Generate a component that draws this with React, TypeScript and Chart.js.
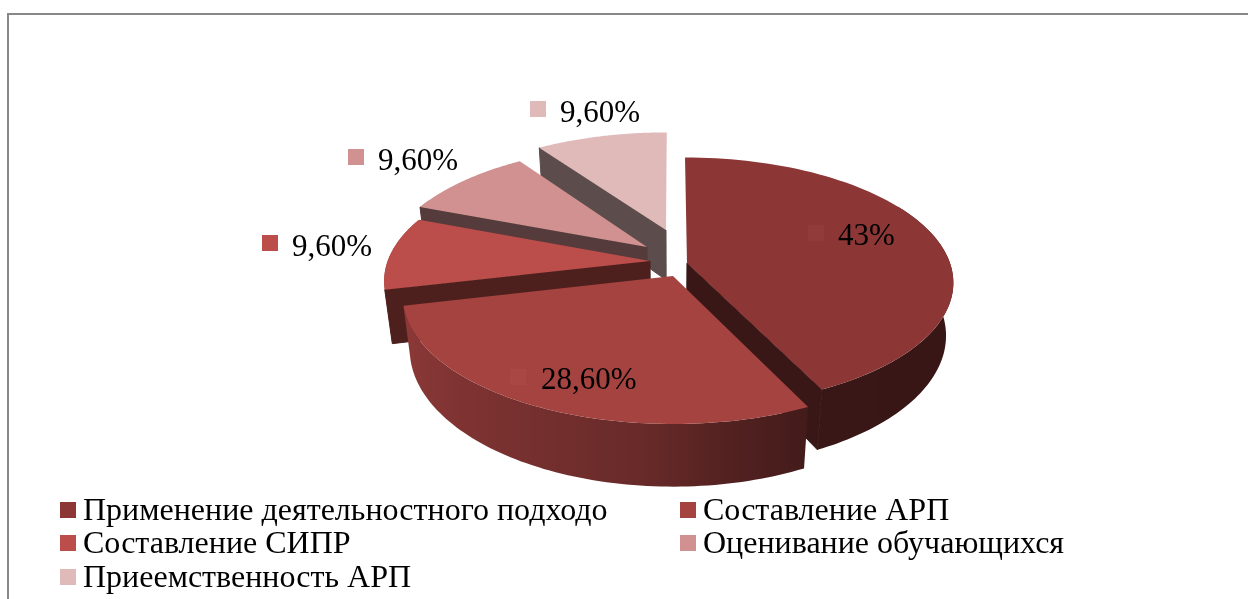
import React, { useEffect, useRef } from "react";
import { Chart, registerables } from "chart.js";

Chart.register(...registerables);

const categories = [
  "Применение деятельностного подходо",
  "Составление АРП",
  "Составление СИПР",
  "Оценивание обучающихся",
  "Приеемственность АРП",
];
const values = [43, 28.6, 9.6, 9.6, 9.6];
const valueLabels = ["43%", "28,60%", "9,60%", "9,60%", "9,60%"];
const colors = ["#8c3736", "#a54341", "#bb4d4a", "#d09190", "#e0b9b9"];

// Style: explosion of each slice in the pie plane (fractions of the radius), 3D view and layout.
const explodeU = [0.057, 0.0037, -0.0839, -0.097, -0.0238];
const explodeV = [-0.0248, -0.1302, -0.0083, 0.1097, 0.2586];
const drawOrder = [4, 3, 2, 0, 1];
const VIEW = { radiusScale: 262 / 260, tilt: 0.46, persp: 0.15, depth: 52, depthPersp: 0.026 };
const FONT = '"Liberation Serif", serif';
const labelLayout = [
  { mx: 808, my: 225, tx: 838, ty: 237, mark: "#913b3a" },
  { mx: 510, my: 369, tx: 541, ty: 381, mark: "#a94745" },
  { mx: 262, my: 235, tx: 292, ty: 248, mark: colors[2] },
  { mx: 348, my: 149, tx: 378, ty: 162, mark: colors[3] },
  { mx: 530, my: 101, tx: 560, ty: 114, mark: colors[4] },
];
const legendLayout = [
  { x: 60, y: 510 },
  { x: 680, y: 510 },
  { x: 60, y: 543 },
  { x: 680, y: 543 },
  { x: 60, y: 577 },
];
const brightnessStops: [number, number][] = [
  [0, 0.4],
  [155, 0.41],
  [170, 0.5],
  [185, 0.63],
  [210, 0.72],
  [258, 0.87],
  [360, 0.87],
];
const VISIBLE_WALL = { from: (60 * Math.PI) / 180, to: (295 * Math.PI) / 180 };

function shade(hex: string, b: number) {
  const n = parseInt(hex.slice(1), 16);
  const c = [(n >> 16) & 255, (n >> 8) & 255, n & 255].map((v) => Math.round(v * b));
  return `rgb(${c[0]},${c[1]},${c[2]})`;
}
function brightness(deg: number) {
  for (let i = 1; i < brightnessStops.length; i++) {
    const [a, ba] = brightnessStops[i - 1];
    const [c, bc] = brightnessStops[i];
    if (deg <= c) return ba + ((bc - ba) * (deg - a)) / (c - a);
  }
  return 0.87;
}

const pie3d = {
  id: "pie3d",
  beforeDatasetDraw(chart: any) {
    const { ctx } = chart;
    const arcs = chart.getDatasetMeta(0).data;
    const proj = (arc: any, u: number, v: number, z: number): [number, number] => {
      const R = arc.outerRadius * VIEW.radiusScale;
      const w = 1 + VIEW.persp * v;
      return [arc.x + (R * u) / (w + VIEW.depthPersp * z), arc.y + (-R * VIEW.tilt * v + VIEW.depth * z) / w];
    };
    ctx.save();
    for (const i of drawOrder) {
      const arc = arcs[i];
      const t0 = arc.startAngle + Math.PI / 2;
      const t1 = arc.endAngle + Math.PI / 2;
      const eu = explodeU[i];
      const ev = explodeV[i];
      const P = (t: number, z: number) => proj(arc, eu + Math.sin(t), ev + Math.cos(t), z);
      const A = (z: number) => proj(arc, eu, ev, z);
      const N = 80;
      // outer wall: only its front part can be seen
      const w0 = Math.max(t0, VISIBLE_WALL.from);
      const w1 = Math.min(t1, VISIBLE_WALL.to);
      if (w1 > w0) {
        const samples: [number, number][] = [];
        ctx.beginPath();
        for (let s = 0; s <= N; s++) {
          const t = w0 + ((w1 - w0) * s) / N;
          const p = P(t, 0);
          samples.push([p[0], brightness((t * 180) / Math.PI)]);
          if (s === 0) ctx.moveTo(...p);
          else ctx.lineTo(...p);
        }
        for (let s = N; s >= 0; s--) ctx.lineTo(...P(w0 + ((w1 - w0) * s) / N, 1));
        ctx.closePath();
        samples.sort((a, b) => a[0] - b[0]);
        const x0 = samples[0][0];
        const x1 = samples[samples.length - 1][0];
        const g = ctx.createLinearGradient(x0, 0, x1, 0);
        for (const [x, b] of samples) g.addColorStop((x - x0) / (x1 - x0 || 1), shade(colors[i], b));
        ctx.fillStyle = g;
        ctx.fill();
      }
      // cut walls, only those that face the viewer
      const quad = (t: number) => {
        ctx.beginPath();
        ctx.moveTo(...A(0));
        ctx.lineTo(...P(t, 0));
        ctx.lineTo(...P(t, 1));
        ctx.lineTo(...A(1));
        ctx.closePath();
        ctx.fillStyle = shade(colors[i], 0.41);
        ctx.strokeStyle = shade(colors[i], 0.41);
        ctx.lineWidth = 1;
        ctx.fill();
        ctx.stroke();
      };
      if (P(t0, 0)[0] - A(0)[0] < -2) quad(t0);
      if (P(t1, 0)[0] - A(0)[0] > 2) quad(t1);
      // top face
      ctx.beginPath();
      ctx.moveTo(...A(0));
      for (let s = 0; s <= N; s++) ctx.lineTo(...P(t0 + ((t1 - t0) * s) / N, 0));
      ctx.closePath();
      ctx.fillStyle = colors[i];
      ctx.fill();
    }
    ctx.restore();
    return false;
  },
  afterDraw(chart: any) {
    const { ctx, width, height } = chart;
    ctx.save();
    // frame
    ctx.strokeStyle = "#888888";
    ctx.lineWidth = 2;
    ctx.beginPath();
    ctx.moveTo(8, height);
    ctx.lineTo(8, 14);
    ctx.lineTo(width, 14);
    ctx.stroke();
    // value labels
    ctx.textBaseline = "middle";
    ctx.textAlign = "left";
    valueLabels.forEach((t, i) => {
      const l = labelLayout[i];
      ctx.fillStyle = l.mark;
      ctx.fillRect(l.mx, l.my, 16, 16);
      ctx.fillStyle = "#000";
      ctx.font = `31px ${FONT}`;
      ctx.fillText(t, l.tx, l.ty);
    });
    // legend
    categories.forEach((t, i) => {
      const l = legendLayout[i];
      ctx.fillStyle = colors[i];
      ctx.fillRect(l.x, l.y - 8, 16, 16);
      ctx.fillStyle = "#000";
      ctx.font = `32px ${FONT}`;
      ctx.fillText(t, l.x + 23, l.y + 2);
    });
    ctx.restore();
  },
};

export default function App() {
  const ref = useRef<HTMLCanvasElement>(null);
  useEffect(() => {
    const chart = new Chart(ref.current as HTMLCanvasElement, {
      type: "pie",
      data: {
        labels: categories,
        datasets: [{ data: values, backgroundColor: colors, borderWidth: 0 }],
      },
      options: {
        responsive: false,
        animation: false,
        layout: { padding: { left: 96, bottom: 79 } },
        plugins: { legend: { display: false }, tooltip: { enabled: false } },
      },
      plugins: [pie3d],
    } as any);
    return () => chart.destroy();
  }, []);
  return (
    <div style={{ position: "fixed", left: 0, top: 0, width: 1248, height: 599, background: "#fff" }}>
      <canvas ref={ref} width={1248} height={599} style={{ display: "block" }} />
    </div>
  );
}
